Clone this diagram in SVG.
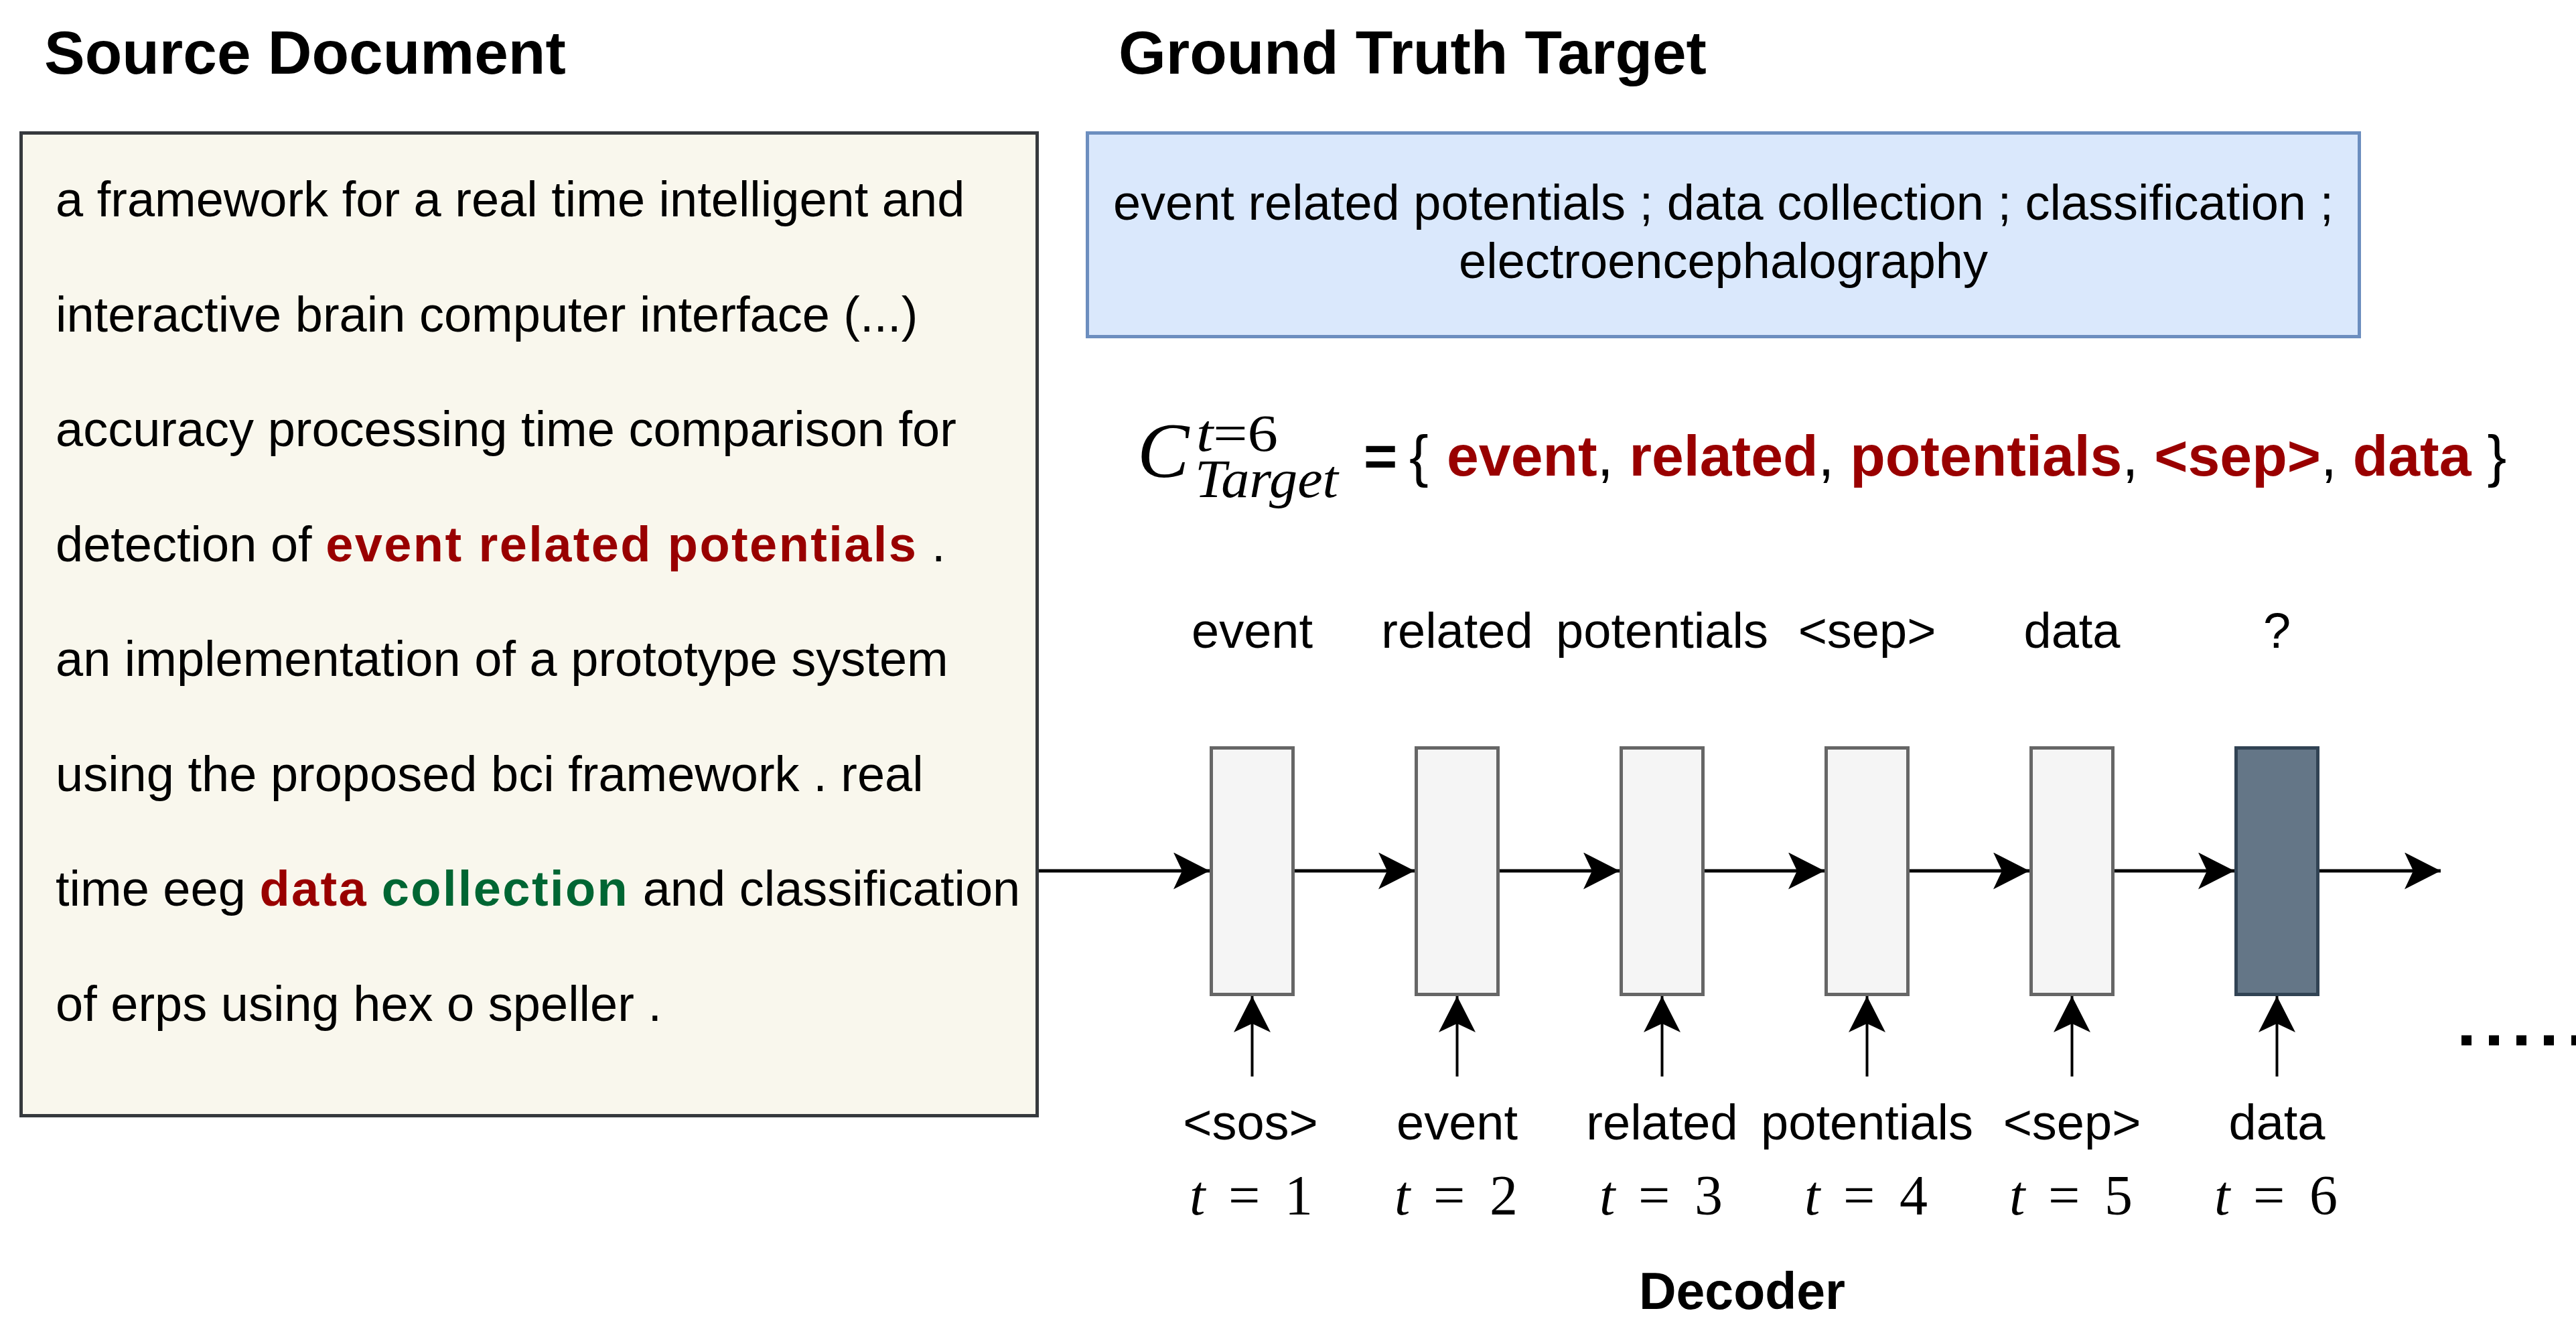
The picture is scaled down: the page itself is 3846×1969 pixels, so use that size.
<svg xmlns="http://www.w3.org/2000/svg" width="3846" height="1969" viewBox="0 0 3846 1969">
<style>
.t{font-family:"Liberation Sans",Arial,sans-serif;font-size:74px;fill:#000}
.h{font-family:"Liberation Sans",Arial,sans-serif;font-weight:bold;fill:#000}
.b{font-weight:bold}
.red{fill:#990000;font-weight:bold}
.grn{fill:#006633;font-weight:bold}
.wide{letter-spacing:2.4px}
.m{font-family:"Liberation Serif","Times New Roman",serif;fill:#000}
.i{font-style:italic}
.lbl{font-family:"Liberation Sans",Arial,sans-serif;font-size:74px;fill:#000;text-anchor:middle}
.cell{fill:#f5f5f5;stroke:#666666;stroke-width:5}
.cur{fill:#647687;stroke:#314354;stroke-width:5}
.hl{stroke:#000;stroke-width:5;fill:none;marker-end:url(#arr)}
.vl{stroke:#000;stroke-width:4;fill:none;marker-end:url(#arr)}
</style>
<defs>
<marker id="arr" viewBox="0 0 54 55" refX="54" refY="27.5" markerWidth="54" markerHeight="55" markerUnits="userSpaceOnUse" orient="auto">
<path d="M0,0 L54,27.5 L0,55 L13,27.5 Z" fill="#000"/>
</marker>
</defs>
<rect width="3846" height="1969" fill="#fff"/>

<g id="title-source"><text class="h" x="66" y="110" font-size="91">Source Document</text></g>
<g id="title-target"><text class="h" x="1670" y="110" font-size="91">Ground Truth Target</text></g>

<g id="source-document">
<rect x="31.5" y="198.5" width="1517" height="1467" fill="#f9f7ed" stroke="#36393d" stroke-width="5"/>
<text class="t" x="83" y="323">a framework for a real time intelligent and</text>
<text class="t" x="83" y="494.5">interactive brain computer interface (...)</text>
<text class="t" x="83" y="666">accuracy processing time comparison for</text>
<text class="t" x="83" y="837.5">detection of <tspan class="red wide">event related potentials</tspan> .</text>
<text class="t" x="83" y="1009">an implementation of a prototype system</text>
<text class="t" x="83" y="1180.5">using the proposed bci framework . real</text>
<text class="t" x="83" y="1352">time eeg <tspan class="red wide">data</tspan> <tspan class="grn wide">collection</tspan> and classification</text>
<text class="t" x="83" y="1523.5">of erps using hex o speller .</text>
</g>

<g id="ground-truth">
<rect x="1623.5" y="198.5" width="1899" height="304" fill="#dae8fc" stroke="#6c8ebf" stroke-width="5"/>
<text class="lbl" x="2573" y="328">event related potentials ; data collection ; classification ;</text>
<text class="lbl" x="2573" y="415">electroencephalography</text>
</g>

<g id="formula">
<text class="m i" x="1698" y="712" font-size="116">C</text>
<text class="m" x="1786" y="673" font-size="78" textLength="122" lengthAdjust="spacingAndGlyphs"><tspan class="i">t</tspan>=6</text>
<text class="m i" x="1784" y="742" font-size="80" textLength="214" lengthAdjust="spacingAndGlyphs">Target</text>
<text class="t" x="2036" y="710" style="font-size:86px"><tspan class="b">=</tspan><tspan x="2104">{</tspan><tspan x="2160" class="red">event</tspan>, <tspan class="red">related</tspan>, <tspan class="red">potentials</tspan>, <tspan class="red">&lt;sep&gt;</tspan>, <tspan class="red">data</tspan> }</text>
</g>

<g id="outputs">
<text class="lbl" x="1869.5" y="967">event</text>
<text class="lbl" x="2175.5" y="967">related</text>
<text class="lbl" x="2481.5" y="967">potentials</text>
<text class="lbl" x="2787.5" y="967">&lt;sep&gt;</text>
<text class="lbl" x="3093.5" y="967">data</text>
<text class="lbl" x="3399.5" y="967">?</text>
</g>

<g id="cell-1"><rect class="cell" x="1808.5" y="1116.5" width="122" height="368"/></g>
<g id="cell-2"><rect class="cell" x="2114.5" y="1116.5" width="122" height="368"/></g>
<g id="cell-3"><rect class="cell" x="2420.5" y="1116.5" width="122" height="368"/></g>
<g id="cell-4"><rect class="cell" x="2726.5" y="1116.5" width="122" height="368"/></g>
<g id="cell-5"><rect class="cell" x="3032.5" y="1116.5" width="122" height="368"/></g>
<g id="cell-6"><rect class="cur" x="3338.5" y="1116.5" width="122" height="368"/></g>

<g id="connectors">
<line class="hl" x1="1551" y1="1300" x2="1806" y2="1300"/>
<line class="hl" x1="1933" y1="1300" x2="2112" y2="1300"/>
<line class="hl" x1="2239" y1="1300" x2="2418" y2="1300"/>
<line class="hl" x1="2545" y1="1300" x2="2724" y2="1300"/>
<line class="hl" x1="2851" y1="1300" x2="3030" y2="1300"/>
<line class="hl" x1="3157" y1="1300" x2="3336" y2="1300"/>
<line class="hl" x1="3463" y1="1300" x2="3644" y2="1300"/>
<line class="vl" x1="1869.5" y1="1607" x2="1869.5" y2="1487"/>
<line class="vl" x1="2175.5" y1="1607" x2="2175.5" y2="1487"/>
<line class="vl" x1="2481.5" y1="1607" x2="2481.5" y2="1487"/>
<line class="vl" x1="2787.5" y1="1607" x2="2787.5" y2="1487"/>
<line class="vl" x1="3093.5" y1="1607" x2="3093.5" y2="1487"/>
<line class="vl" x1="3399.5" y1="1607" x2="3399.5" y2="1487"/>
</g>

<g id="ellipsis"><line x1="3675" y1="1553" x2="3880" y2="1553" stroke="#000" stroke-width="15" stroke-dasharray="15 26"/></g>

<g id="inputs">
<text class="lbl" x="1867" y="1701">&lt;sos&gt;</text>
<text class="lbl" x="2175.5" y="1701">event</text>
<text class="lbl" x="2481.5" y="1701">related</text>
<text class="lbl" x="2787.5" y="1701">potentials</text>
<text class="lbl" x="3093.5" y="1701">&lt;sep&gt;</text>
<text class="lbl" x="3399.5" y="1701">data</text>
</g>

<g id="timesteps" class="m" font-size="84">
<text x="1776" y="1813"><tspan class="i">t</tspan><tspan x="1834">=</tspan><tspan x="1918">1</tspan></text>
<text x="2082" y="1813"><tspan class="i">t</tspan><tspan x="2140">=</tspan><tspan x="2224">2</tspan></text>
<text x="2388" y="1813"><tspan class="i">t</tspan><tspan x="2446">=</tspan><tspan x="2530">3</tspan></text>
<text x="2694" y="1813"><tspan class="i">t</tspan><tspan x="2752">=</tspan><tspan x="2836">4</tspan></text>
<text x="3000" y="1813"><tspan class="i">t</tspan><tspan x="3058">=</tspan><tspan x="3142">5</tspan></text>
<text x="3306" y="1813"><tspan class="i">t</tspan><tspan x="3364">=</tspan><tspan x="3448">6</tspan></text>
</g>

<g id="decoder-label"><text class="h" x="2601" y="1954" font-size="77" text-anchor="middle">Decoder</text></g>
</svg>
